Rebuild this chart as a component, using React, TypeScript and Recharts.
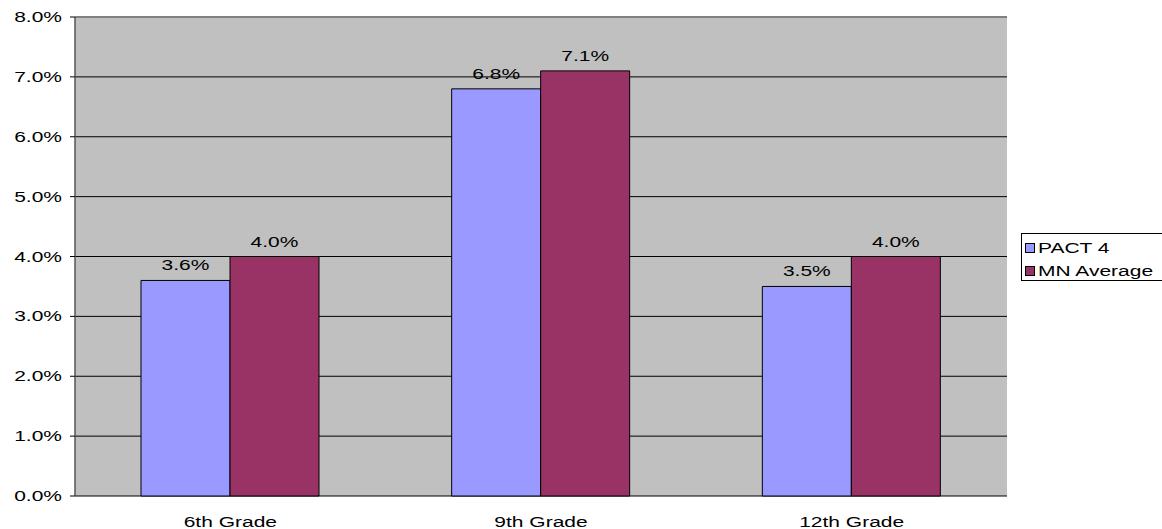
import { BarChart, Bar, XAxis, YAxis, CartesianGrid, Legend, ReferenceLine, LabelList } from "recharts";

const grades = ["6th Grade", "9th Grade", "12th Grade"];
const pact4 = [3.6, 6.8, 3.5];
const mnAverage = [4.0, 7.1, 4.0];
const yTicks = [0, 1, 2, 3, 4, 5, 6, 7, 8];
const edgeTicks = [0, 1, 2, 3];

const FONT = '"Liberation Sans", Arial, sans-serif';
const STRETCH = 1.4;

const data = grades.map((g, i) => ({ grade: g, pact: pact4[i], mn: mnAverage[i] }));

const series = [
  { key: "pact", name: "PACT 4", color: "#9999FF" },
  { key: "mn", name: "MN Average", color: "#993366" },
];

function StretchText({ x, y, text, anchor }: { x: number; y: number; text: string; anchor: "start" | "middle" | "end" }) {
  return (
    <g transform={`translate(${x},${y})`}>
      <text transform={`scale(${STRETCH},1)`} textAnchor={anchor} fontFamily={FONT} fontSize={15} fill="#000">
        {text}
      </text>
    </g>
  );
}

const YTick = (p: any) => <StretchText x={p.x - 6} y={p.y + 5} text={`${Number(p.payload.value).toFixed(1)}%`} anchor="end" />;
const XTick = (p: any) => <StretchText x={p.x} y={p.y + 23} text={p.payload.value} anchor="middle" />;
const BarLabel = (p: any) => (
  <StretchText x={p.x + p.width / 2} y={p.y - 10} text={`${Number(p.value).toFixed(1)}%`} anchor="middle" />
);

// legend drawn as its own small svg so it matches the boxed excel legend
function LegendBox() {
  return (
    <svg width={150} height={48} style={{ display: "block" }}>
      <rect x={0.5} y={0.5} width={160} height={47} fill="#fff" stroke="#000" />
      {series.map((s, i) => (
        <g key={s.key}>
          <rect x={4.5} y={10.5 + i * 23} width={9} height={9} fill={s.color} stroke="#000" />
          <StretchText x={17} y={20 + i * 23} text={s.name} anchor="start" />
        </g>
      ))}
    </svg>
  );
}

export default function App() {
  return (
    <div style={{ position: "absolute", left: 0, top: 0, width: 1162, height: 529, background: "#fff", overflow: "hidden" }}>
      <BarChart width={1162} height={529} data={data} margin={{ top: 17, right: 155, bottom: 0, left: 0 }} barGap={0}>
        <CartesianGrid vertical={false} stroke="#000" fill="#C0C0C0" fillOpacity={1} />
        <XAxis
          xAxisId="edge"
          type="number"
          domain={[0, 3]}
          ticks={edgeTicks}
          height={0}
          tick={() => <g />}
          tickSize={6}
          axisLine={{ stroke: "#000", strokeWidth: 1.5 }}
          tickLine={{ stroke: "#000" }}
        />
        <XAxis dataKey="grade" height={33} axisLine={false} tickLine={false} tick={XTick} interval={0} />
        <YAxis
          width={75}
          domain={[0, 8]}
          ticks={yTicks}
          interval={0}
          tick={YTick}
          tickSize={5}
          axisLine={{ stroke: "#555", strokeWidth: 1.5 }}
          tickLine={{ stroke: "#000" }}
        />
        <ReferenceLine y={8} stroke="#808080" strokeWidth={2} />
        <ReferenceLine x={3} xAxisId="edge" stroke="#808080" strokeWidth={2} />
        {series.map((s) => (
          <Bar key={s.key} dataKey={s.key} name={s.name} fill={s.color} stroke="#000" strokeWidth={1} barSize={89} isAnimationActive={false}>
            <LabelList dataKey={s.key} content={BarLabel} />
          </Bar>
        ))}
        <Legend
          content={() => <LegendBox />}
          layout="vertical"
          verticalAlign="middle"
          align="center"
          wrapperStyle={{ position: "absolute", left: 1021, top: 233, width: 150, height: 48 }}
        />
      </BarChart>
    </div>
  );
}
